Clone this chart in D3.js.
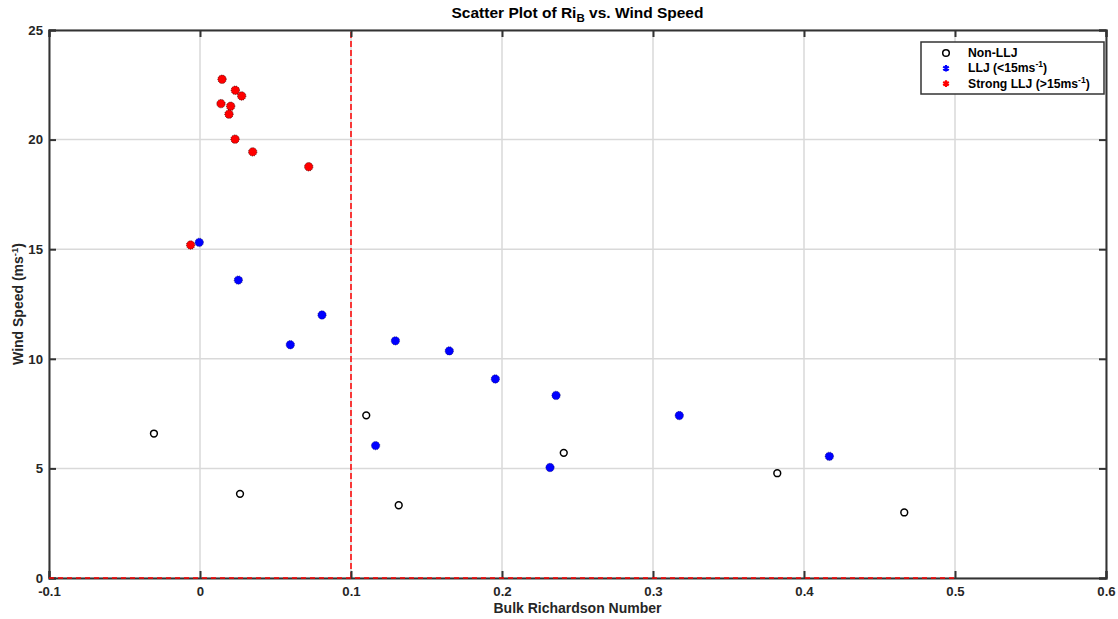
<!DOCTYPE html>
<html>
<head>
<meta charset="utf-8">
<script src="https://cdn.jsdelivr.net/npm/d3@7"></script>
<style>
  body { margin: 0; background: #fff; }
  svg text { font-family: "Liberation Sans", Arial, sans-serif; font-weight: bold; fill: #262626; }
</style>
</head>
<body>
<div id="chart"></div>
<script>
// Datos
const nonLljRi = [-0.0305, 0.0265, 0.1101, 0.1316, 0.2409, 0.3823, 0.4664];
const nonLljWs = [6.59, 3.84, 7.42, 3.32, 5.71, 4.78, 2.99];

const lljRi = [-0.0005, 0.0254, 0.0598, 0.0808, 0.1163, 0.1294, 0.1651, 0.1956, 0.2318, 0.2358, 0.3174, 0.4168];
const lljWs = [15.31, 13.59, 10.64, 12.0, 6.04, 10.82, 10.36, 9.08, 5.04, 8.33, 7.41, 5.55];

const strongRi = [-0.0062, 0.0146, 0.0234, 0.0276, 0.0139, 0.0203, 0.0192, 0.0232, 0.0349, 0.072];
const strongWs = [15.19, 22.75, 22.25, 21.99, 21.64, 21.52, 21.16, 20.02, 19.44, 18.76];

const xTicks = [-0.1, 0, 0.1, 0.2, 0.3, 0.4, 0.5, 0.6];
const yTicks = [0, 5, 10, 15, 20, 25];

const W = 1118, H = 619;
const margin = { top: 30, right: 12, bottom: 41, left: 49 };
const width = W - margin.left - margin.right;
const height = H - margin.top - margin.bottom;

const svg = d3.select('#chart').append('svg')
  .attr('width', W).attr('height', H);

const g = svg.append('g').attr('transform', `translate(${margin.left},${margin.top})`);

const x = d3.scaleLinear().domain([-0.1, 0.6]).range([0, width]);
const y = d3.scaleLinear().domain([0, 25]).range([height, 0]);

// Rejilla
g.selectAll('.vgrid').data(xTicks).enter().append('line')
  .attr('x1', d => x(d)).attr('x2', d => x(d))
  .attr('y1', 0).attr('y2', height)
  .attr('stroke', '#d9d9d9').attr('stroke-width', 1.5);
g.selectAll('.hgrid').data(yTicks).enter().append('line')
  .attr('x1', 0).attr('x2', width)
  .attr('y1', d => y(d)).attr('y2', d => y(d))
  .attr('stroke', '#d9d9d9').attr('stroke-width', 1.5);

// Línea de referencia vertical
g.append('line')
  .attr('x1', x(0.1)).attr('x2', x(0.1))
  .attr('y1', y(0)).attr('y2', y(25))
  .attr('stroke', '#ff0000').attr('stroke-width', 1.5)
  .attr('stroke-dasharray', '6,3');

// Marco y ejes
const axisColor = '#333';
const fmt = d => String(d);
const axBottom = g.append('g').attr('transform', `translate(0,${height})`)
  .call(d3.axisBottom(x).tickValues(xTicks).tickSize(-7).tickPadding(9).tickFormat(fmt));
const axTop = g.append('g')
  .call(d3.axisTop(x).tickValues(xTicks).tickSize(-7).tickFormat(''));
const axLeft = g.append('g')
  .call(d3.axisLeft(y).tickValues(yTicks).tickSize(-7).tickPadding(6).tickFormat(fmt));
const axRight = g.append('g').attr('transform', `translate(${width},0)`)
  .call(d3.axisRight(y).tickValues(yTicks).tickSize(-7).tickFormat(''));
[axBottom, axTop, axLeft, axRight].forEach(a => {
  a.select('.domain').attr('stroke', axisColor).attr('stroke-width', 2);
  a.selectAll('.tick line').attr('stroke', axisColor).attr('stroke-width', 2);
  a.selectAll('.tick text').attr('font-size', 13.2).attr('fill', '#262626')
    .attr('font-family', '"Liberation Sans", Arial, sans-serif').attr('font-weight', 'bold');
});

// Línea horizontal roja en y = 0 (hasta 0.5)
g.append('line')
  .attr('x1', x(-0.1)).attr('x2', x(0.5))
  .attr('y1', y(0)).attr('y2', y(0))
  .attr('stroke', '#ff0000').attr('stroke-width', 1.5)
  .attr('stroke-dasharray', '5,4');

// Puntos
const nonLlj = nonLljRi.map((d, i) => [d, nonLljWs[i]]);
const llj = lljRi.map((d, i) => [d, lljWs[i]]);
const strong = strongRi.map((d, i) => [d, strongWs[i]]);

g.selectAll('.non').data(nonLlj).enter().append('circle')
  .attr('cx', d => x(d[0])).attr('cy', d => y(d[1])).attr('r', 3.4)
  .attr('fill', '#fff').attr('stroke', '#000').attr('stroke-width', 1.5);

g.selectAll('.llj').data(llj).enter().append('circle')
  .attr('cx', d => x(d[0])).attr('cy', d => y(d[1])).attr('r', 4.2)
  .attr('fill', '#0000ff').attr('stroke', '#00004a').attr('stroke-width', 0.6)
  .attr('stroke-dasharray', '1,1');

g.selectAll('.strong').data(strong).enter().append('circle')
  .attr('cx', d => x(d[0])).attr('cy', d => y(d[1])).attr('r', 4.2)
  .attr('fill', '#ff0000').attr('stroke', '#3a0000').attr('stroke-width', 0.8)
  .attr('stroke-dasharray', '1,1');

// Título
const title = svg.append('text')
  .attr('x', margin.left + width / 2).attr('y', 18)
  .attr('text-anchor', 'middle').attr('font-size', 15.5).style('fill', '#000');
title.append('tspan').text('Scatter Plot of Ri');
title.append('tspan').attr('font-size', 11.5).attr('dy', 4).text('B');
title.append('tspan').attr('dy', -4).text(' vs. Wind Speed');

// Etiquetas de ejes
svg.append('text')
  .attr('x', margin.left + width / 2).attr('y', 613)
  .attr('text-anchor', 'middle').attr('font-size', 14)
  .text('Bulk Richardson Number');

const yl = svg.append('text')
  .attr('transform', `translate(23,${margin.top + height / 2}) rotate(-90)`)
  .attr('text-anchor', 'middle').attr('font-size', 14);
yl.append('tspan').text('Wind Speed (ms');
yl.append('tspan').attr('font-size', 9.5).attr('dy', -5).text('-1');
yl.append('tspan').attr('dy', 5).text(')');

// Leyenda
const lg = svg.append('g').attr('transform', 'translate(921,42)');
lg.append('rect').attr('width', 183).attr('height', 52)
  .attr('fill', '#fff').attr('stroke', axisColor).attr('stroke-width', 1.5);

const legendItems = [
  { label: 'Non-LLJ', sup: null, color: null },
  { label: 'LLJ (<15ms', sup: '-1', color: '#0000ff' },
  { label: 'Strong LLJ (>15ms', sup: '-1', color: '#ff0000' }
];
const star = d3.symbol().type(d3.symbolAsterisk).size(30);
legendItems.forEach((it, i) => {
  const cy = 11 + i * 15.3;
  if (it.color === null) {
    lg.append('circle').attr('cx', 25).attr('cy', cy).attr('r', 3.3)
      .attr('fill', '#fff').attr('stroke', '#000').attr('stroke-width', 1.5);
  } else {
    lg.append('path').attr('d', star).attr('transform', `translate(25,${cy})`)
      .attr('fill', 'none').attr('stroke', it.color).attr('stroke-width', 2.2);
  }
  const t = lg.append('text').attr('x', 47).attr('y', cy + 4).attr('font-size', 12.2).style('fill', '#000');
  t.append('tspan').text(it.label);
  if (it.sup) {
    t.append('tspan').attr('font-size', 8.5).attr('dy', -5).text(it.sup);
    t.append('tspan').attr('dy', 5).text(')');
  }
});
</script>
</body>
</html>
